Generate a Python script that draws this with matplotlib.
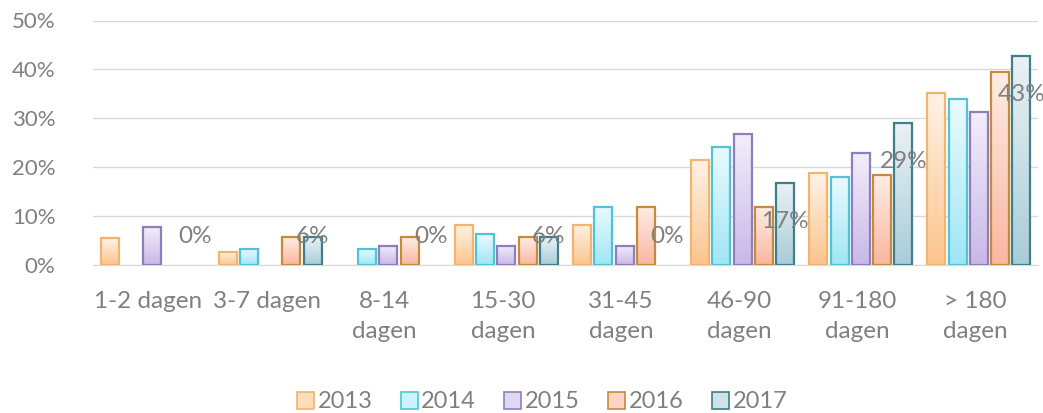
import numpy as np
import matplotlib
matplotlib.use("Agg")
import matplotlib.pyplot as plt
from matplotlib.colors import LinearSegmentedColormap
from matplotlib.patches import Patch

categories = ["1-2 dagen", "3-7 dagen", "8-14\ndagen", "15-30\ndagen", "31-45\ndagen",
              "46-90\ndagen", "91-180\ndagen", "> 180\ndagen"]
years = ["2013", "2014", "2015", "2016", "2017"]
v2013 = [5.5, 2.7, 0.0, 8.2, 8.2, 21.5, 18.8, 35.2]
v2014 = [0.0, 3.3, 3.3, 6.3, 11.9, 24.1, 18.0, 33.9]
v2015 = [7.8, 0.0, 3.9, 3.9, 3.9, 26.8, 22.9, 31.3]
v2016 = [0.0, 5.7, 5.7, 5.7, 11.9, 11.9, 18.4, 39.5]
v2017 = [0.0, 5.7, 0.0, 5.7, 0.0, 16.8, 29.0, 42.7]
labels2017 = ["0%", "6%", "0%", "6%", "0%", "17%", "29%", "43%"]
yticks = [0, 10, 20, 30, 40, 50]

series = [v2013, v2014, v2015, v2016, v2017]
edge_colors = ["#F2B46E", "#52C3D6", "#8E7EBB", "#C48B3C", "#3F7F8A"]
top_colors = ["#FFF3E6", "#EAFBFE", "#F3EEFA", "#FEEDE4", "#EAF2F5"]
bot_colors = ["#FBC48E", "#9FE6F5", "#C9B8E8", "#F9B6A0", "#A9CCD8"]
leg_fill = ["#FDDDBB", "#CDF3FA", "#E2D8F3", "#FCD3C4", "#D0E2E8"]

plt.rcParams['font.family'] = ['Lato', 'DejaVu Sans']
txt_color = "#808080"
fs_y = 16
fs_x = 17.5
fs_leg = 17

fig = plt.figure(figsize=(10.43, 4.13), dpi=100)
ax = fig.add_axes([93/1043, (413-265)/413, (1038-93)/1043, (265-20.5)/413])

x = np.arange(len(categories))
step = 0.18
width = 0.153
grad = np.linspace(0, 1, 256).reshape(-1, 1)
for i, (vals, ec, tc, bc) in enumerate(zip(series, edge_colors, top_colors, bot_colors)):
    off = (i - 2) * step
    cmap = LinearSegmentedColormap.from_list(f"g{i}", [bc, tc])
    bars = ax.bar(x + off, vals, width=width, facecolor="none", edgecolor=ec,
                  linewidth=1.6, zorder=3)
    for b, v in zip(bars, vals):
        if v <= 0:
            b.set_visible(False)
            continue
        x0 = b.get_x()
        im = ax.imshow(grad, extent=[x0, x0 + width, 0, v], origin="lower",
                       aspect="auto", cmap=cmap, zorder=2, interpolation="bilinear")
        im.set_clip_path(b)

# data labels of 2017 series
for xi, v, lab in zip(x, v2017, labels2017):
    ax.text(xi + 2 * step, max(v - 7.9, 5.8), lab, ha="center", va="center",
            fontsize=fs_x, color=txt_color, zorder=5, clip_on=False)

ax.set_xlim(-0.5, len(categories) - 0.5)
ax.set_ylim(0, 50)
ax.set_yticks(yticks)
ax.set_yticklabels([f"{t}%" for t in yticks])
ax.set_xticks(x - 0.03)
ax.set_xticklabels(categories, linespacing=1.5)
ax.tick_params(axis="both", length=0, labelcolor=txt_color)
ax.tick_params(axis="y", pad=27, labelsize=fs_y)
ax.tick_params(axis="x", pad=19, labelsize=fs_x)
ax.grid(axis="y", color="#D9D9D9", linewidth=1.0, zorder=0)
ax.set_axisbelow(True)
for s in ["top", "right", "left"]:
    ax.spines[s].set_visible(False)
ax.spines["bottom"].set_color("#D9D9D9")

handles = [Patch(facecolor=lf, edgecolor=ec, linewidth=1.2, label=y)
           for y, ec, lf in zip(years, edge_colors, leg_fill)]
leg = fig.legend(handles=handles, loc="center", bbox_to_anchor=(542/1043, 1 - 402/413),
                 ncol=5, frameon=False, fontsize=fs_leg, handlelength=0.72, handleheight=0.72,
                 handletextpad=0.15, columnspacing=1.2, labelcolor=txt_color,
                 borderpad=0.1)

fig.savefig("out.png", dpi=100)
